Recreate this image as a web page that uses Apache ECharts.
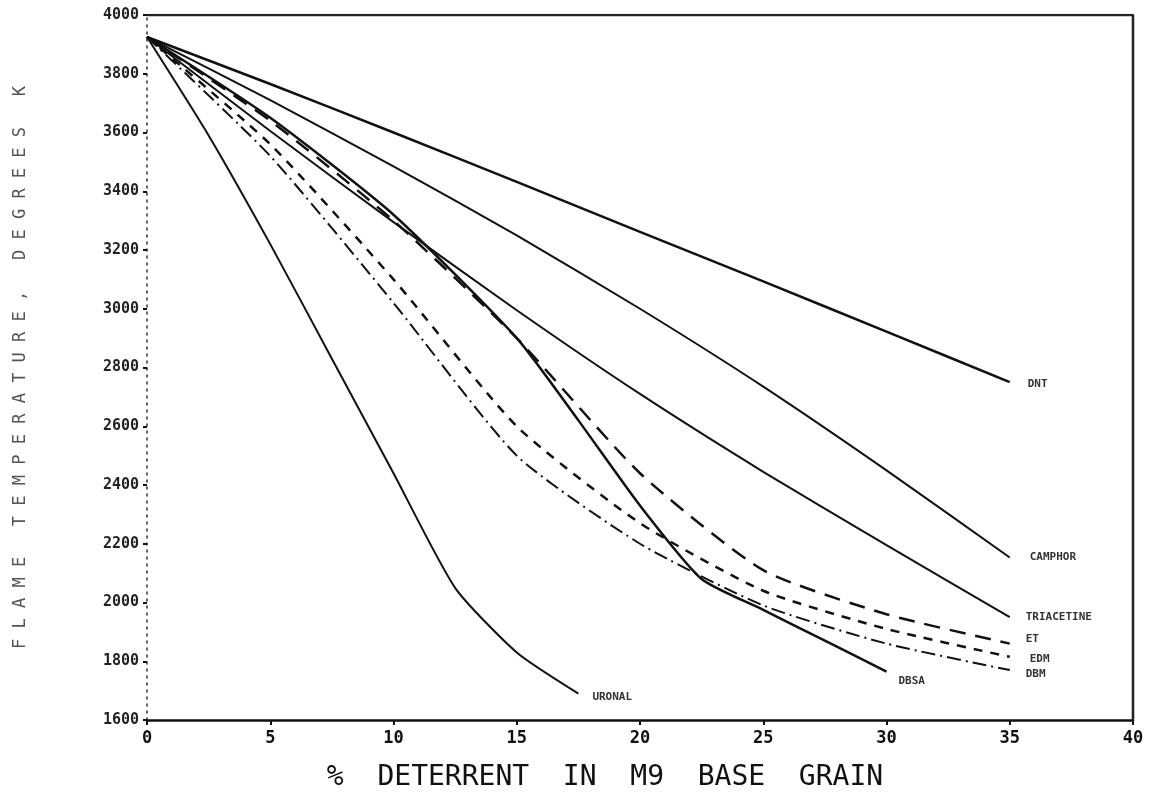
<!DOCTYPE html>
<html>
<head>
<meta charset="utf-8">
<script src="https://cdn.jsdelivr.net/npm/echarts@6/dist/echarts.min.js"></script>
<style>
html,body{margin:0;padding:0;background:#fff;}
#chart{width:1150px;height:797px;}
</style>
</head>
<body>
<div id="chart"></div>
<script>
// ---- data ----
const xTicks = [0, 5, 10, 15, 20, 25, 30, 35, 40];
const yTicks = [1600, 1800, 2000, 2200, 2400, 2600, 2800, 3000, 3200, 3400, 3600, 3800, 4000];

const xStd = [0, 5, 10, 15, 20, 25, 30, 35];
const dnt        = [3925, 3765, 3600, 3432, 3262, 3093, 2922, 2750];
const camphor    = [3925, 3710, 3485, 3250, 3000, 2735, 2450, 2153];
const triacetine = [3925, 3605, 3295, 2995, 2710, 2445, 2195, 1950];
const et         = [3925, 3640, 3300, 2900, 2440, 2110, 1960, 1860];
const edm        = [3925, 3560, 3100, 2600, 2270, 2040, 1910, 1815];
const dbm        = [3925, 3520, 3020, 2500, 2200, 1990, 1860, 1770];

const xDbsa = [0, 5, 10, 15, 17.5, 20, 22.5, 25, 27.5, 30];
const dbsa  = [3925, 3650, 3320, 2900, 2620, 2330, 2080, 1975, 1870, 1765];

const xUronal = [0, 2.5, 5, 7.5, 10, 12.5, 15, 17.5];
const uronal  = [3925, 3590, 3220, 2830, 2440, 2050, 1830, 1690];

const seriesNames = ['DNT', 'CAMPHOR', 'TRIACETINE', 'ET', 'EDM', 'DBM', 'DBSA', 'URONAL'];
const xAxisTitle = '%  DETERRENT  IN  M9  BASE  GRAIN';
const yAxisTitle = 'FLAME TEMPERATURE, DEGREES K';

// ---- chart ----
function pairs(xs, ys) { return xs.map((x, i) => [x, ys[i]]); }
function spaced(s) { return s.split('').join(' '); }

const chart = echarts.init(document.getElementById('chart'));
const labelFont = { fontFamily: 'DejaVu Sans Mono', fontWeight: 'bold', fontSize: 11, color: '#333' };

function mk(name, data, lineStyle, labelOffset) {
  return {
    name: name, type: 'line', data: data, smooth: 0.2, symbol: 'none',
    lineStyle: Object.assign({ color: '#111', width: 2 }, lineStyle),
    endLabel: Object.assign({ show: true, formatter: '{a}', offset: labelOffset || [6, 0] }, labelFont),
    z: 3
  };
}

chart.setOption({
  animation: false,
  backgroundColor: '#fff',
  grid: { left: 147, right: 17, top: 15, bottom: 74, show: false },
  xAxis: {
    type: 'value', min: 0, max: 40, interval: 5,
    name: xAxisTitle, nameLocation: 'middle', nameGap: 44,
    nameTextStyle: { fontFamily: 'DejaVu Sans Mono', fontSize: 28, color: '#111', padding: [0, 70, 0, 0] },
    axisLine: { lineStyle: { color: '#111', width: 2.5 } },
    axisTick: { show: true, inside: false, length: 5, lineStyle: { color: '#111', width: 2 } },
    axisLabel: { fontFamily: 'DejaVu Sans Mono', fontWeight: 'bold', fontSize: 17, color: '#111', margin: 10 },
    splitLine: { show: false }
  },
  yAxis: {
    type: 'value', min: 1600, max: 4000, interval: 200,
    name: spaced(yAxisTitle), nameLocation: 'middle', nameGap: 118, nameRotate: 90,
    nameTextStyle: { fontFamily: 'DejaVu Sans Mono', fontSize: 17, color: '#555', padding: [0, 0, 0, 0] },
    axisLine: { lineStyle: { color: '#333', width: 1.5, type: [2, 5] } },
    axisTick: { show: true, length: 4, lineStyle: { color: '#111', width: 2 } },
    axisLabel: { fontFamily: 'DejaVu Sans Mono', fontWeight: 'bold', fontSize: 15, color: '#222', margin: 8,
                 formatter: function (v) { return String(v); } },
    splitLine: { show: false }
  },
  series: [
    mk('DNT', pairs(xStd, dnt), { width: 2.5 }, [10, 2]),
    mk('CAMPHOR', pairs(xStd, camphor), { width: 2 }, [12, 0]),
    mk('TRIACETINE', pairs(xStd, triacetine), { width: 2 }, [8, 0]),
    mk('ET', pairs(xStd, et), { width: 2.5, type: [16, 10] }, [8, -4]),
    mk('EDM', pairs(xStd, edm), { width: 2.5, type: [9, 8] }, [12, 2]),
    mk('DBM', pairs(xStd, dbm), { width: 2, type: [14, 5, 2, 5] }, [8, 4]),
    mk('DBSA', pairs(xDbsa, dbsa), { width: 2.5 }, [4, 10]),
    mk('URONAL', pairs(xUronal, uronal), { width: 2 }, [6, 4]),
    {
      // plot frame (top and right borders)
      type: 'line', silent: true, symbol: 'none', data: [[0, 4000], [40, 4000], [40, 1600]],
      lineStyle: { color: '#222', width: 2.5 }, z: 2
    }
  ]
});
</script>
</body>
</html>
